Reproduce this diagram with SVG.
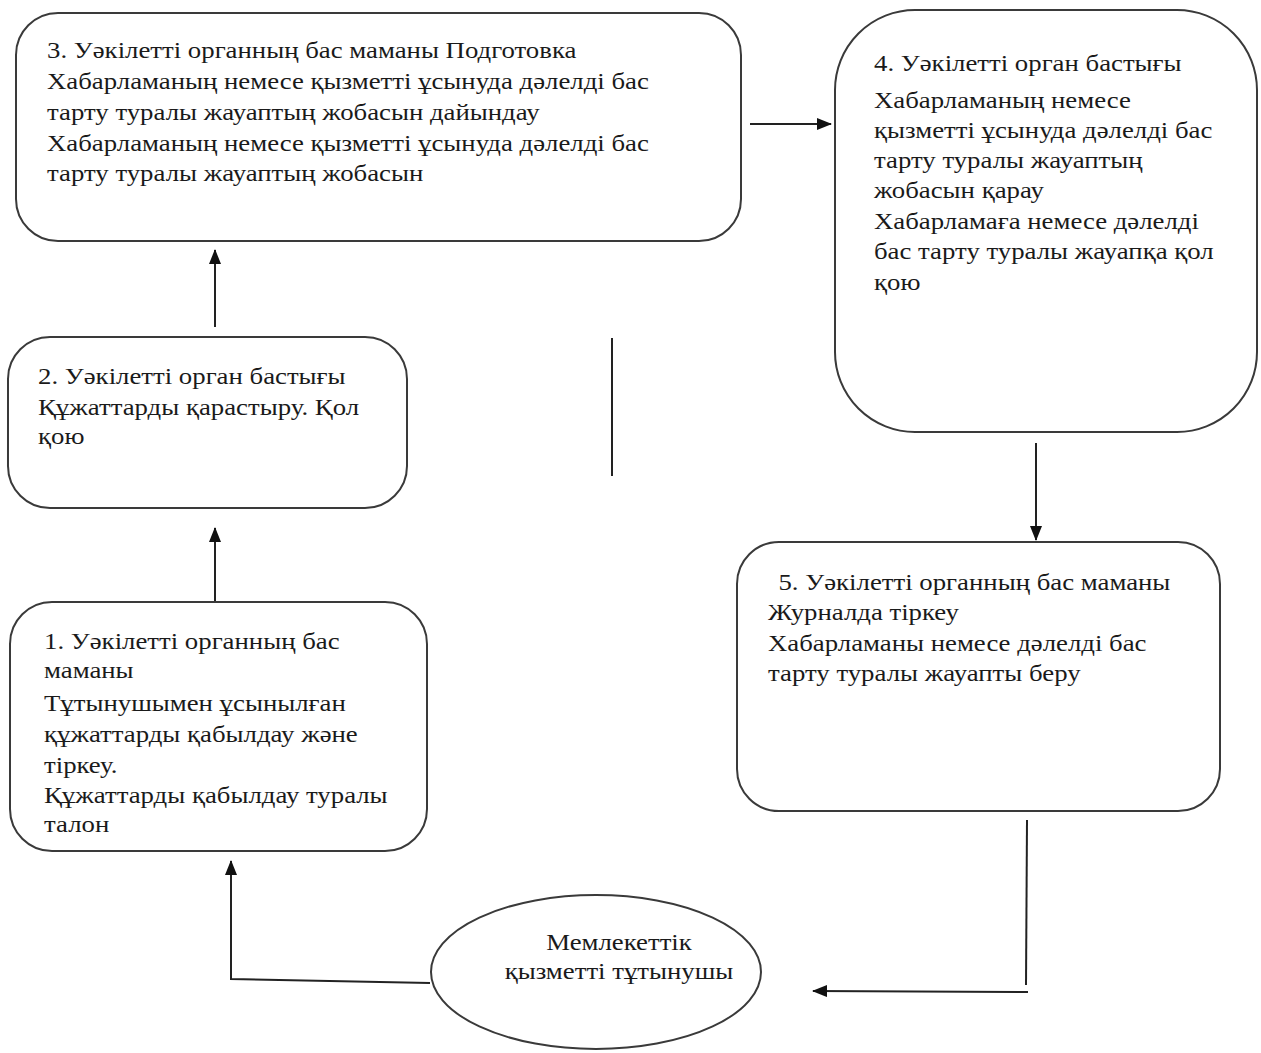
<svg xmlns="http://www.w3.org/2000/svg" width="1261" height="1053" viewBox="0 0 1261 1053">
<defs>
<style>
.box{fill:#fff;stroke:#3a3a3a;stroke-width:2}
.t{font-family:"Liberation Serif","Times New Roman",serif;font-size:23px;fill:#1a1a1a}
.c{fill:none;stroke:#222;stroke-width:2}
</style>
<marker id="ah" viewBox="0 0 15 12" refX="14" refY="6" markerWidth="15" markerHeight="12" markerUnits="userSpaceOnUse" orient="auto">
<path d="M0,0 L15,6 L0,12 z" fill="#111"/>
</marker>
</defs>
<rect width="1261" height="1053" fill="#fff"/>
<g id="connectors">
<line class="c" x1="215" y1="602" x2="215" y2="528" marker-end="url(#ah)"/>
<line class="c" x1="215" y1="327" x2="215" y2="250" marker-end="url(#ah)"/>
<line class="c" x1="750" y1="124" x2="831" y2="124" marker-end="url(#ah)"/>
<line class="c" x1="612" y1="338" x2="612" y2="476"/>
<line class="c" x1="1036" y1="443" x2="1036" y2="540" marker-end="url(#ah)"/>
<line class="c" x1="1027" y1="820" x2="1026" y2="985"/>
<line class="c" x1="1028" y1="992" x2="813" y2="991" marker-end="url(#ah)"/>
<polyline class="c" points="430,983 231,979 231,861" marker-end="url(#ah)"/>
</g>
<g id="node3">
<rect class="box" x="16" y="13" width="725" height="228" rx="42"/>
<g transform="translate(47,0) scale(1.165,1)"><text class="t"><tspan x="0" y="58">3. Уәкілетті  органның бас  маманы Подготовка</tspan><tspan x="0" y="89">Хабарламаның немесе қызметті ұсынуда дәлелді бас</tspan><tspan x="0" y="120">тарту туралы жауаптың жобасын дайындау</tspan><tspan x="0" y="151">Хабарламаның немесе қызметті ұсынуда дәлелді бас</tspan><tspan x="0" y="181">тарту туралы жауаптың жобасын</tspan></text></g>
</g>
<g id="node4">
<rect class="box" x="835" y="10" width="422" height="422" rx="80"/>
<g transform="translate(874,0) scale(1.165,1)"><text class="t"><tspan x="0" y="71">4. Уәкілетті  орган  бастығы</tspan><tspan x="0" y="108">Хабарламаның немесе</tspan><tspan x="0" y="138">қызметті ұсынуда дәлелді бас</tspan><tspan x="0" y="168">тарту туралы жауаптың</tspan><tspan x="0" y="198">жобасын қарау</tspan><tspan x="0" y="229">Хабарламаға немесе дәлелді</tspan><tspan x="0" y="259">бас тарту туралы жауапқа қол</tspan><tspan x="0" y="290">қою</tspan></text></g>
</g>
<g id="node2">
<rect class="box" x="8" y="337" width="399" height="171" rx="42"/>
<g transform="translate(38,0) scale(1.165,1)"><text class="t"><tspan x="0" y="384">2.  Уәкілетті  орган  бастығы</tspan><tspan x="0" y="415">Құжаттарды қарастыру. Қол</tspan><tspan x="0" y="444">қою</tspan></text></g>
</g>
<g id="node1">
<rect class="box" x="10" y="602" width="417" height="249" rx="42"/>
<g transform="translate(44,0) scale(1.165,1)"><text class="t"><tspan x="0" y="649">1. Уәкілетті  органның бас</tspan><tspan x="0" y="678">маманы</tspan><tspan x="0" y="711">Тұтынушымен ұсынылған</tspan><tspan x="0" y="742">құжаттарды қабылдау және</tspan><tspan x="0" y="773">тіркеу.</tspan><tspan x="0" y="803">Құжаттарды қабылдау туралы</tspan><tspan x="0" y="832">талон</tspan></text></g>
</g>
<g id="node5">
<rect class="box" x="737" y="542" width="483" height="269" rx="42"/>
<g transform="translate(768,0) scale(1.165,1)"><text class="t"><tspan x="9" y="590">5. Уәкілетті  органның бас  маманы</tspan><tspan x="0" y="620">Журналда тіркеу</tspan><tspan x="0" y="651">Хабарламаны немесе дәлелді бас</tspan><tspan x="0" y="681">тарту туралы жауапты беру</tspan></text></g>
</g>
<g id="consumer">
<ellipse class="box" cx="596" cy="972" rx="165" ry="77"/>
<g transform="translate(619,0) scale(1.165,1)"><text class="t" text-anchor="middle"><tspan x="0" y="950">Мемлекеттік</tspan><tspan x="0" y="979">қызметті тұтынушы</tspan></text></g>
</g>
</svg>
